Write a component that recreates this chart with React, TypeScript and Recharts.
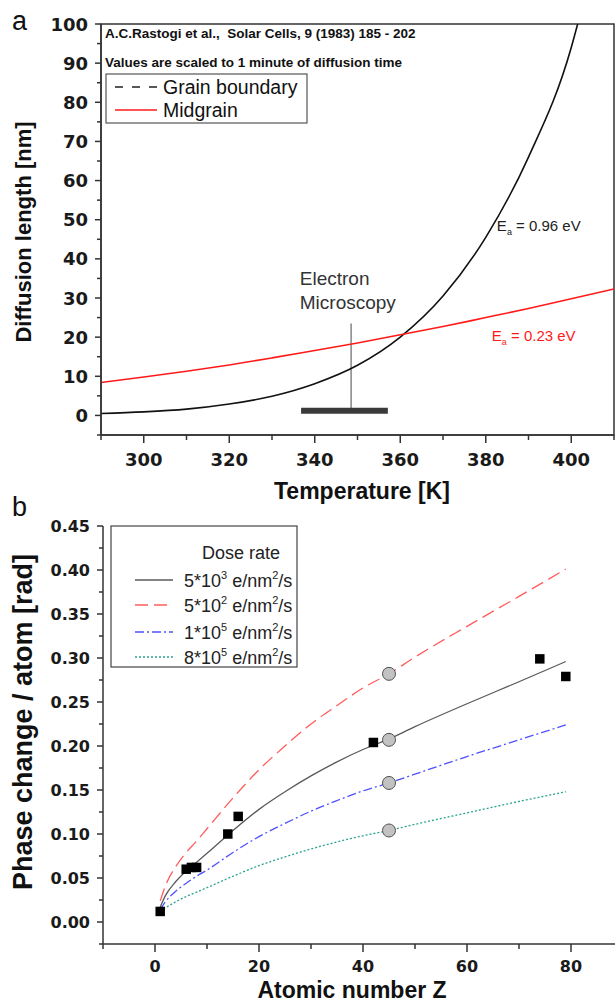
import React from "react";
import {
  LineChart,
  ComposedChart,
  Line,
  Scatter,
  XAxis,
  YAxis,
  ZAxis,
  ReferenceLine,
  ReferenceArea,
  ReferenceDot,
  Label,
} from "recharts";

// ---- panel a: diffusion length vs temperature
const gbTempK = [290, 300, 310, 320, 330, 340, 350, 360, 370, 380, 390, 400, 401.5];
const gbLengthNm = [0.5, 0.9, 1.6, 2.9, 4.9, 8.1, 12.8, 20.0, 30.5, 45.5, 66.0, 94.0, 100.0];
const mgTempK = [290, 300, 310, 320, 330, 340, 350, 360, 370, 380, 390, 400, 410];
const mgLengthNm = [8.4, 9.8, 11.3, 12.9, 14.7, 16.6, 18.5, 20.6, 22.7, 25.0, 27.3, 29.8, 32.3];

const tempTicks = [290, 300, 310, 320, 330, 340, 350, 360, 370, 380, 390, 400, 410];
const tempLabels = [300, 320, 340, 360, 380, 400];
const lengthTicks = [-5, 0, 5, 10, 15, 20, 25, 30, 35, 40, 45, 50, 55, 60, 65, 70, 75, 80, 85, 90, 95, 100];
const lengthLabels = [0, 10, 20, 30, 40, 50, 60, 70, 80, 90, 100];

// electron microscopy window: bar from..to, marker position, bar level and marker top
const emTempK = [336.8, 348.5, 357.1];
const emLengthNm = [1.2, 23.5];

// ---- panel b: phase change per atom vs Z
const zFit = [1, 2, 4, 6, 8, 10, 15, 20, 25, 30, 35, 40, 45, 50, 60, 70, 79];
const fit5e3 = [0.017, 0.03, 0.046, 0.058, 0.068, 0.078, 0.104, 0.128, 0.148, 0.166, 0.182, 0.196, 0.208, 0.222, 0.248, 0.273, 0.296];
const fit5e2 = [0.024, 0.041, 0.063, 0.079, 0.092, 0.106, 0.141, 0.173, 0.2, 0.225, 0.246, 0.266, 0.282, 0.301, 0.336, 0.37, 0.401];
const fit1e5 = [0.014, 0.023, 0.035, 0.044, 0.052, 0.059, 0.079, 0.097, 0.112, 0.126, 0.138, 0.149, 0.158, 0.168, 0.188, 0.207, 0.224];
const fit8e5 = [0.012, 0.016, 0.023, 0.029, 0.034, 0.039, 0.052, 0.064, 0.074, 0.083, 0.091, 0.098, 0.104, 0.111, 0.124, 0.137, 0.148];

const measuredZ = [1, 6, 7, 8, 14, 16, 42, 74, 79];
const measuredPhase = [0.012, 0.06, 0.062, 0.062, 0.1, 0.12, 0.204, 0.299, 0.279];
const simulatedZ = [45, 45, 45, 45];
const simulatedPhase = [0.282, 0.207, 0.158, 0.104];

const zTicks = [-10, 0, 10, 20, 30, 40, 50, 60, 70, 80, 90];
const zLabels = [0, 20, 40, 60, 80];
const phaseTicks = [-0.025, 0, 0.025, 0.05, 0.075, 0.1, 0.125, 0.15, 0.175, 0.2, 0.225, 0.25, 0.275, 0.3, 0.325, 0.35, 0.375, 0.4, 0.425, 0.45];
const phaseLabels = [0, 0.05, 0.1, 0.15, 0.2, 0.25, 0.3, 0.35, 0.4, 0.45];

const doseSeries = [
  { name: "5*10", exp: "3", data: fit5e3, color: "#5a5a5a", dash: undefined, width: 1.3 },
  { name: "5*10", exp: "2", data: fit5e2, color: "#ff5c5c", dash: "13 6", width: 1.3 },
  { name: "1*10", exp: "5", data: fit1e5, color: "#5050ff", dash: "9 3 2 3", width: 1.3 },
  { name: "8*10", exp: "5", data: fit8e5, color: "#2aa38f", dash: "2 2", width: 1.3 },
];

const ARIAL = "'Liberation Sans', Arial, sans-serif";
const DEJAVU = "'DejaVu Sans', sans-serif";
const AX = "#333";

const zip = (xs: number[], ys: number[], kx: string, ky: string) =>
  xs.map((x, i) => ({ [kx]: x, [ky]: ys[i] }));

function xTick(labels: number[], size: number, dy: number, fmt: (v: number) => string) {
  return (props: any) => {
    const { x, y, payload } = props;
    const major = labels.includes(payload.value);
    return (
      <g>
        <line x1={x} y1={y} x2={x} y2={y + (major ? 8 : 5)} stroke={AX} strokeWidth={1.5} />
        {major ? (
          <text x={x} y={y + dy} textAnchor="middle" fontFamily={DEJAVU} fontWeight="bold" fontSize={size} fill="#1a1a1a">
            {fmt(payload.value)}
          </text>
        ) : null}
      </g>
    );
  };
}

function yTick(labels: number[], size: number, dy: number, fmt: (v: number) => string) {
  return (props: any) => {
    const { x, y, payload } = props;
    const major = labels.includes(payload.value);
    return (
      <g>
        <line x1={x} y1={y} x2={x - (major ? 6 : 4)} y2={y} stroke={AX} strokeWidth={1.5} />
        {major ? (
          <text x={x - 13} y={y + dy} textAnchor="end" fontFamily={DEJAVU} fontWeight="bold" fontSize={size} fill="#1a1a1a">
            {fmt(payload.value)}
          </text>
        ) : null}
      </g>
    );
  };
}

const xTitle = (text: string, size: number, dx: number, baseline: number) => (props: any) => {
  const vb = props.viewBox || { x: 0, y: 0, width: 0, height: 0 };
  return (
    <text x={vb.x + vb.width / 2 + dx} y={vb.y + baseline} textAnchor="middle" fontFamily={ARIAL} fontWeight="bold" fontSize={size} fill="#111">
      {text}
    </text>
  );
};

const yTitle = (text: string, size: number, bx: number, dy: number) => (props: any) => {
  const vb = props.viewBox || { x: 0, y: 0, width: 0, height: 0 };
  const cx = vb.x + bx;
  const cy = vb.y + vb.height / 2 + dy;
  return (
    <text x={cx} y={cy} transform={`rotate(-90 ${cx} ${cy})`} textAnchor="middle" fontFamily={ARIAL} fontWeight="bold" fontSize={size} fill="#111">
      {text}
    </text>
  );
};

const eaLabel = (value: string, color: string) => (props: any) => {
  const vb = props.viewBox || { x: 0, y: 0 };
  return (
    <text x={vb.x} y={vb.y} fontFamily={ARIAL} fontSize={15} fill={color}>
      E<tspan fontSize={9} dy={4}>a</tspan>
      <tspan dy={-4}> = {value}</tspan>
    </text>
  );
};

const emLabel = (props: any) => {
  const vb = props.viewBox || { x: 0, y: 0 };
  return (
    <text x={vb.x} y={vb.y} fontFamily={ARIAL} fontSize={19} fill="#333">
      <tspan x={vb.x}>Electron</tspan>
      <tspan x={vb.x} dy={24}>Microscopy</tspan>
    </text>
  );
};

const circleShape = (props: any) => (
  <circle cx={props.cx} cy={props.cy} r={6.5} fill="#c2c2c2" stroke="#505050" strokeWidth={1} />
);

function Overlay() {
  return (
    <svg width={615} height={1003} style={{ position: "absolute", left: 0, top: 0, pointerEvents: "none" }}>
      <text x={12} y={30} fontFamily={ARIAL} fontSize={27} fill="#111">a</text>
      <text x={12} y={516} fontFamily={ARIAL} fontSize={27} fill="#111">b</text>

      <text x={105} y={38} fontFamily={ARIAL} fontWeight="bold" fontSize={13.5} fill="#111" style={{ whiteSpace: "pre" }}>
        {"A.C.Rastogi et al.,  Solar Cells, 9 (1983) 185 - 202"}
      </text>
      <text x={105} y={67} fontFamily={ARIAL} fontWeight="bold" fontSize={13.5} fill="#111">
        Values are scaled to 1 minute of diffusion time
      </text>

      <rect x={106} y={74} width={201} height={49} fill="#fff" stroke="#555" strokeWidth={1.2} />
      <line x1={115} y1={87} x2={160} y2={87} stroke="#222" strokeWidth={1.5} strokeDasharray="8 9" />
      <text x={163} y={93.5} fontFamily={ARIAL} fontSize={19.5} fill="#111">Grain boundary</text>
      <line x1={115} y1={110} x2={157} y2={110} stroke="#ff1a1a" strokeWidth={1.6} />
      <text x={163} y={116.5} fontFamily={ARIAL} fontSize={19.5} fill="#111">Midgrain</text>

      <rect x={111} y={526} width={186} height={141} fill="#fff" stroke="#444" strokeWidth={1.2} />
      <text x={241} y={558.5} textAnchor="middle" fontFamily={ARIAL} fontSize={18} fill="#222">Dose rate</text>
      {doseSeries.map((s, i) => {
        const y = [580, 605, 632, 657][i];
        return (
          <g key={i}>
            <line x1={135} y1={y} x2={173} y2={y} stroke={s.color} strokeWidth={s.width + 0.3} strokeDasharray={s.dash} />
            <text x={184} y={y + 6.5} fontFamily={ARIAL} fontSize={18} fill="#222">
              {s.name}
              <tspan fontSize={11} dy={-8}>{s.exp}</tspan>
              <tspan dy={8}> e/nm</tspan>
              <tspan fontSize={11} dy={-8}>2</tspan>
              <tspan dy={8}>/s</tspan>
            </text>
          </g>
        );
      })}
    </svg>
  );
}

export default function App() {
  const gbData = zip(gbTempK, gbLengthNm, "t", "v");
  const mgData = zip(mgTempK, mgLengthNm, "t", "v");
  const squares = zip(measuredZ, measuredPhase, "z", "p");
  const circles = zip(simulatedZ, simulatedPhase, "z", "p");

  return (
    <div style={{ position: "absolute", left: 0, top: 0, width: 615, height: 1003, overflow: "hidden", background: "#fff" }}>
      <div style={{ position: "absolute", left: 0, top: 0 }}>
        <LineChart width={615} height={505} margin={{ top: 24, right: 1, bottom: 0, left: 0 }}>
          <XAxis
            type="number"
            dataKey="t"
            domain={[290, 410]}
            ticks={tempTicks}
            interval={0}
            tickLine={false}
            tickSize={0}
            tickMargin={0}
            axisLine={{ stroke: AX, strokeWidth: 1.5 }}
            tick={xTick(tempLabels, 18, 31, (v) => String(v))}
            height={70}
            allowDataOverflow
          >
            <Label content={xTitle("Temperature [K]", 23, 4.5, 64)} />
          </XAxis>
          <YAxis
            type="number"
            dataKey="v"
            domain={[-5, 100]}
            ticks={lengthTicks}
            interval={0}
            tickLine={false}
            tickSize={0}
            tickMargin={0}
            axisLine={{ stroke: AX, strokeWidth: 1.5 }}
            tick={yTick(lengthLabels, 18, 6.5, (v) => String(v))}
            width={101}
            allowDataOverflow
          >
            <Label content={yTitle("Diffusion length  [nm]", 22, 31, 2.5)} />
          </YAxis>
          <ReferenceArea x1={290} x2={410} y1={-5} y2={100} fill="none" stroke={AX} strokeWidth={1.5} fillOpacity={0} />
          <ReferenceLine
            segment={[{ x: emTempK[1], y: emLengthNm[0] }, { x: emTempK[1], y: emLengthNm[1] }]}
            stroke="#666"
            strokeWidth={1.2}
          />
          <ReferenceLine
            segment={[{ x: emTempK[0], y: emLengthNm[0] }, { x: emTempK[2], y: emLengthNm[0] }]}
            stroke="#3a3a3a"
            strokeWidth={6}
          />
          <Line data={gbData} dataKey="v" type="monotone" stroke="#111" strokeWidth={1.6} dot={false} isAnimationActive={false} name="Grain boundary" />
          <Line data={mgData} dataKey="v" type="monotone" stroke="#ff1a1a" strokeWidth={1.6} dot={false} isAnimationActive={false} name="Midgrain" />
          <ReferenceDot x={336.5} y={33.3} r={0} fill="none" stroke="none" label={emLabel} />
          <ReferenceDot x={382.6} y={47.2} r={0} fill="none" stroke="none" label={eaLabel("0.96 eV", "#222")} />
          <ReferenceDot x={381.4} y={19.1} r={0} fill="none" stroke="none" label={eaLabel("0.23 eV", "#ff1a1a")} />
        </LineChart>
      </div>

      <div style={{ position: "absolute", left: 0, top: 500 }}>
        <ComposedChart width={630} height={503} margin={{ top: 26, right: 7, bottom: 0, left: 0 }}>
          <XAxis
            type="number"
            dataKey="z"
            domain={[-10, 90]}
            ticks={zTicks}
            interval={0}
            tickLine={false}
            tickSize={0}
            tickMargin={0}
            axisLine={{ stroke: AX, strokeWidth: 1.5 }}
            tick={xTick(zLabels, 16, 28, (v) => String(v))}
            height={59}
            allowDataOverflow
          >
            <Label content={xTitle("Atomic number Z", 23, -11, 54)} />
          </XAxis>
          <YAxis
            type="number"
            dataKey="p"
            domain={[-0.025, 0.45]}
            ticks={phaseTicks}
            interval={0}
            tickLine={false}
            tickSize={0}
            tickMargin={0}
            axisLine={{ stroke: AX, strokeWidth: 1.5 }}
            tick={yTick(phaseLabels, 16, 6, (v) => v.toFixed(2))}
            width={103}
            allowDataOverflow
          >
            <Label content={yTitle("Phase change / atom [rad]", 27, 32, -13)} />
          </YAxis>
          <ZAxis range={[90, 90]} />
          {doseSeries.map((s, i) => (
            <Line
              key={i}
              data={zip(zFit, s.data, "z", "p")}
              dataKey="p"
              type="monotone"
              stroke={s.color}
              strokeWidth={s.width}
              strokeDasharray={s.dash}
              dot={false}
              isAnimationActive={false}
            />
          ))}
          <Scatter data={circles} dataKey="p" shape={circleShape} isAnimationActive={false} />
          <Scatter data={squares} dataKey="p" shape="square" fill="#000" isAnimationActive={false} />
        </ComposedChart>
      </div>

      <Overlay />
    </div>
  );
}
